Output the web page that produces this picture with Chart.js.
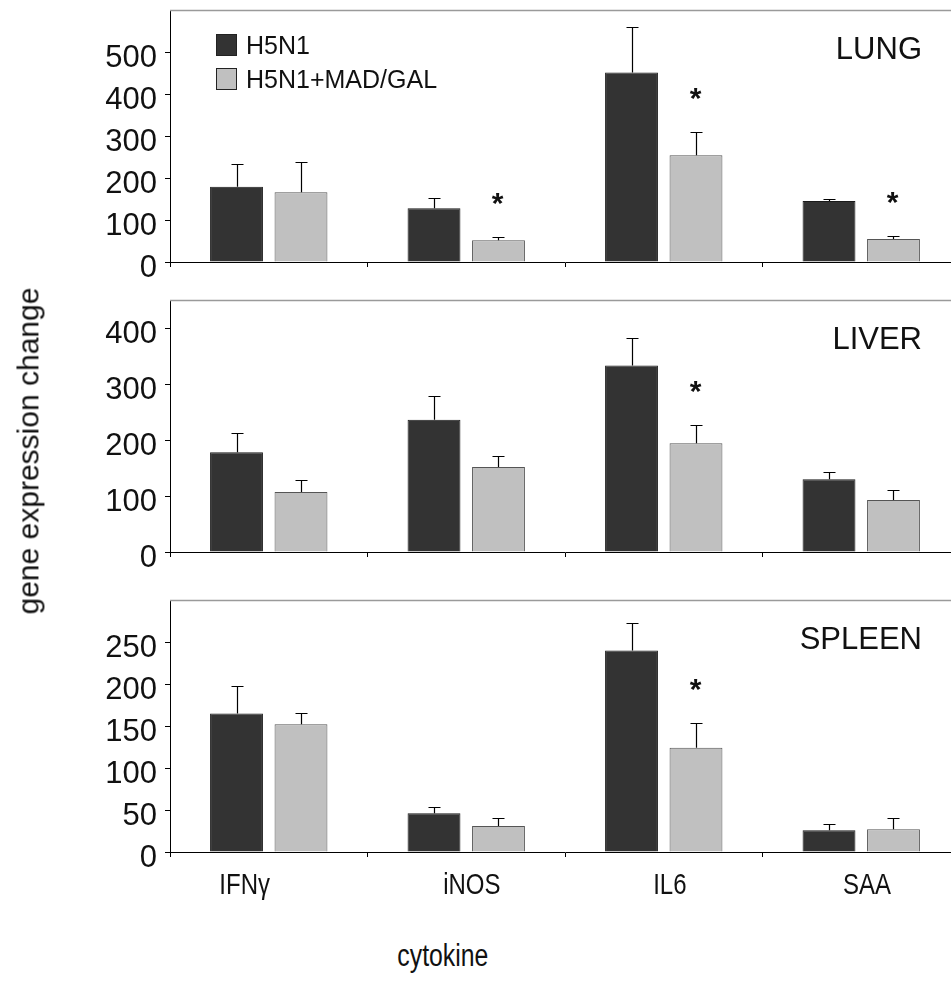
<!DOCTYPE html>
<html>
<head>
<meta charset="utf-8">
<script src="https://cdn.jsdelivr.net/npm/chart.js@4.4.1/dist/chart.umd.min.js"></script>
<style>
  html, body { margin: 0; padding: 0; background: #fff; }
  body { position: relative; width: 951px; height: 985px; overflow: hidden; }
  canvas.panel { position: absolute; left: 0; }
  .txt { position: absolute; font-family: "Liberation Sans", Arial, sans-serif; color: #111; white-space: nowrap; line-height: 1; }
</style>
</head>
<body>
<canvas id="lung" class="panel" width="962" height="324" style="top:-26px"></canvas>
<canvas id="liver" class="panel" width="962" height="324" style="top:264px"></canvas>
<canvas id="spleen" class="panel" width="962" height="324" style="top:564px"></canvas>
<div id="ytitle" class="txt" style="font-size:30px;">gene expression change</div>
<div id="xtitle" class="txt" style="font-size:31px;">cytokine</div>
<script>
// cytokines measured in each organ
const categories = ['IFNγ', 'iNOS', 'IL6', 'SAA'];
const seriesNames = ['H5N1', 'H5N1+MAD/GAL'];

// fold change in gene expression, mean values
const lungH5N1 = [179, 128, 451, 145];
const lungMad = [166, 52, 254, 55];
const liverH5N1 = [178, 236, 333, 130];
const liverMad = [107, 152, 194, 93];
const spleenH5N1 = [165, 46, 240, 26];
const spleenMad = [152, 31, 124, 27];

// upper error (SD) for each bar
const lungH5N1Err = [55, 24, 108, 4];
const lungMadErr = [72, 8, 55, 7];
const liverH5N1Err = [35, 43, 49, 13];
const liverMadErr = [22, 20, 33, 17];
const spleenH5N1Err = [33, 8, 33, 7];
const spleenMadErr = [14, 9, 29, 13];

// significant difference vs H5N1 (asterisk over treated bar)
const lungSig = [false, true, true, true];
const liverSig = [false, false, true, false];
const spleenSig = [false, false, true, false];

// y-axis ranges and labelled ticks
const lungMax = 600;
const liverMax = 450;
const spleenMax = 300;
const lungTicks = [0, 100, 200, 300, 400, 500];
const liverTicks = [0, 100, 200, 300, 400];
const spleenTicks = [0, 50, 100, 150, 200, 250];

const FONT = '"Liberation Sans", Arial, sans-serif';
const DARK = '#333333';
const LIGHT = '#c0c0c0';

// thin frame line along the top of the plot area
const topFrame = {
  id: 'topFrame',
  afterDraw(chart) {
    const { ctx, chartArea: a } = chart;
    ctx.save();
    ctx.strokeStyle = '#9a9a9a';
    ctx.lineWidth = 1.5;
    ctx.beginPath();
    ctx.moveTo(a.left, a.top + 0.5);
    ctx.lineTo(a.right, a.top + 0.5);
    ctx.stroke();
    ctx.restore();
  }
};

// upward error bars with caps, plus significance asterisks
const errorBars = {
  id: 'errorBars',
  afterDatasetsDraw(chart) {
    const { ctx } = chart;
    const ys = chart.scales.y;
    ctx.save();
    chart.data.datasets.forEach((ds, di) => {
      const meta = chart.getDatasetMeta(di);
      meta.data.forEach((bar, i) => {
        const x = Math.round(bar.x) + 0.5;
        const top = Math.round(ys.getPixelForValue(ds.data[i] + ds.errors[i])) + 0.5;
        ctx.strokeStyle = '#000';
        ctx.lineWidth = 1.2;
        ctx.beginPath();
        ctx.moveTo(x, bar.y);
        ctx.lineTo(x, top);
        ctx.moveTo(x - 6, top);
        ctx.lineTo(x + 6, top);
        ctx.stroke();
        if (ds.sig && ds.sig[i]) {
          const size = 30;
          ctx.fillStyle = '#111';
          ctx.font = 'bold ' + size + 'px ' + FONT;
          ctx.textAlign = 'center';
          ctx.textBaseline = 'alphabetic';
          const cy = top - 42;
          ctx.fillText('*', x - 1, cy + 0.575 * size);
        }
      });
    });
    ctx.restore();
  }
};

// organ name in the upper right of each panel
const panelTitle = {
  id: 'panelTitle',
  afterDraw(chart, args, opts) {
    if (!opts.text) return;
    const { ctx, chartArea: a } = chart;
    ctx.save();
    ctx.fillStyle = '#111';
    ctx.font = '31px ' + FONT;
    ctx.textAlign = 'right';
    ctx.textBaseline = 'alphabetic';
    ctx.fillText(opts.text, a.right - 38, a.top + 27 + 0.716 * 31);
    ctx.restore();
  }
};

// series key drawn inside the first panel
const boxLegend = {
  id: 'boxLegend',
  afterDraw(chart, args, opts) {
    if (!opts.show) return;
    const { ctx, chartArea: a } = chart;
    ctx.save();
    chart.data.datasets.forEach((ds, i) => {
      const left = a.left + 46;
      const top = a.top + 24 + i * 34;
      ctx.fillStyle = ds.backgroundColor;
      ctx.fillRect(left, top, 20, 21);
      ctx.strokeStyle = '#222';
      ctx.lineWidth = 1;
      ctx.strokeRect(left + 0.5, top + 0.5, 20, 21);
      ctx.fillStyle = '#111';
      ctx.font = '25px ' + FONT;
      ctx.textAlign = 'left';
      ctx.textBaseline = 'alphabetic';
      ctx.fillText(ds.label, left + 30, top + 11 + 0.358 * 25);
    });
    ctx.restore();
  }
};

function makePanel(id, h5n1, mad, h5n1Err, madErr, sig, yMax, yTicks, title, legend) {
  return new Chart(document.getElementById(id), {
    type: 'bar',
    data: {
      labels: categories,
      datasets: [
        { label: seriesNames[0], data: h5n1, errors: h5n1Err,
          backgroundColor: DARK, borderColor: '#1a1a1a', borderWidth: 1 },
        { label: seriesNames[1], data: mad, errors: madErr, sig: sig,
          backgroundColor: LIGHT, borderColor: '#555555', borderWidth: 1 }
      ]
    },
    options: {
      responsive: false,
      animation: false,
      events: [],
      categoryPercentage: 0.653,
      barPercentage: 0.82,
      layout: { padding: { top: 36, right: 2, left: 0, bottom: 0 } },
      plugins: {
        legend: { display: false },
        tooltip: { enabled: false },
        panelTitle: { text: title },
        boxLegend: { show: legend }
      },
      scales: {
        x: {
          offset: true,
          grid: { offset: true, drawOnChartArea: false, tickLength: 5, color: '#000', lineWidth: 1 },
          border: { color: '#000', width: 1 },
          ticks: { display: false },
          afterFit(s) { s.height = 36; }
        },
        y: {
          min: 0,
          max: yMax,
          ticks: { color: '#111', padding: 8, labelOffset: 6,
                   font: { family: FONT, size: 31 } },
          grid: { drawOnChartArea: false, tickLength: 5, color: '#000', lineWidth: 1 },
          border: { color: '#000', width: 1 },
          afterBuildTicks(s) { s.ticks = yTicks.map(v => ({ value: v })); },
          afterFit(s) { s.width = 170; }
        }
      }
    },
    plugins: [topFrame, errorBars, panelTitle, boxLegend]
  });
}

makePanel('lung', lungH5N1, lungMad, lungH5N1Err, lungMadErr, lungSig, lungMax, lungTicks, 'LUNG', true);
makePanel('liver', liverH5N1, liverMad, liverH5N1Err, liverMadErr, liverSig, liverMax, liverTicks, 'LIVER', false);
const spleen = makePanel('spleen', spleenH5N1, spleenMad, spleenH5N1Err, spleenMadErr, spleenSig, spleenMax, spleenTicks, 'SPLEEN', false);

// category names under the bottom panel, set in a condensed face
const canvasTop = 564;
const xs = spleen.scales.x;
categories.forEach((name, i) => {
  const d = document.createElement('div');
  d.className = 'txt';
  d.textContent = name;
  d.style.fontSize = '30px';
  document.body.appendChild(d);
  const w = d.offsetWidth;
  const cx = xs.getPixelForValue(i) + (i === 0 ? -24 : 6);
  d.style.left = (cx - w / 2) + 'px';
  d.style.top = (canvasTop + spleen.chartArea.bottom + 17) + 'px';
  d.style.transform = 'scaleX(0.8)';
});

const xt = document.getElementById('xtitle');
xt.style.left = (443 - xt.offsetWidth / 2) + 'px';
xt.style.top = '940px';
xt.style.transform = 'scaleX(0.8)';

const yt = document.getElementById('ytitle');
yt.style.left = (28 - yt.offsetWidth / 2) + 'px';
yt.style.top = (451 - yt.offsetHeight / 2) + 'px';
yt.style.transform = 'rotate(-90deg)';
</script>
</body>
</html>
